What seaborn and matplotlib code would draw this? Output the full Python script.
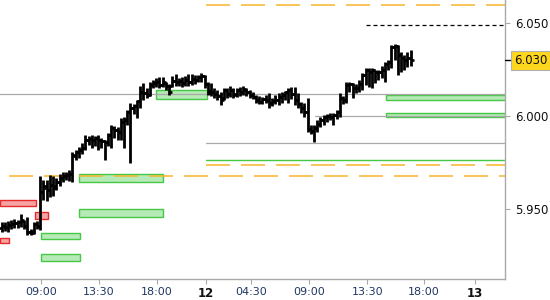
import numpy as np
import pandas as pd
import seaborn as sns
import matplotlib
matplotlib.use("Agg")
import matplotlib.pyplot as plt
from matplotlib.patches import Rectangle
from matplotlib.transforms import blended_transform_factory

# ---------------- data ----------------
opens = [5.9398, 5.9409, 5.9403, 5.9414, 5.9420, 5.9425, 5.9430, 5.9435, 5.9409, 5.9376,
         5.9376, 5.9420, 5.9409, 5.9591, 5.9613, 5.9602, 5.9629, 5.9624, 5.9645, 5.9667,
         5.9677, 5.9683, 5.9688, 5.9785, 5.9806, 5.9817, 5.9828, 5.9871, 5.9876, 5.9871,
         5.9882, 5.9871, 5.9866, 5.9860, 5.9898, 5.9935, 5.9925, 5.9914, 5.9968, 5.9978,
         6.0022, 6.0043, 6.0054, 6.0081, 6.0129, 6.0124, 6.0113, 6.0167, 6.0177, 6.0183,
         6.0167, 6.0177, 6.0161, 6.0161, 6.0188, 6.0183, 6.0188, 6.0177, 6.0194, 6.0183,
         6.0199, 6.0194, 6.0210, 6.0215, 6.0172, 6.0134, 6.0129, 6.0118, 6.0108, 6.0097,
         6.0140, 6.0118, 6.0140, 6.0118, 6.0140, 6.0129, 6.0140, 6.0129, 6.0113, 6.0102,
         6.0086, 6.0075, 6.0091, 6.0086, 6.0070, 6.0081, 6.0086, 6.0102, 6.0113, 6.0129,
         6.0140, 6.0118, 6.0086, 6.0065, 6.0043, 6.0022, 5.9930, 5.9919, 5.9935, 5.9957,
         5.9978, 5.9995, 6.0000, 5.9995, 6.0005, 6.0022, 6.0097, 6.0086, 6.0167, 6.0172,
         6.0151, 6.0151, 6.0172, 6.0220, 6.0247, 6.0237, 6.0247, 6.0237, 6.0237, 6.0247,
         6.0280, 6.0290, 6.0371, 6.0376, 6.0328, 6.0312, 6.0301, 6.0312]
highs = [5.9430, 5.9430, 5.9435, 5.9441, 5.9446, 5.9441, 5.9473, 5.9441, 5.9457, 5.9393,
         5.9430, 5.9435, 5.9677, 5.9656, 5.9656, 5.9683, 5.9677, 5.9667, 5.9688, 5.9699,
         5.9699, 5.9710, 5.9806, 5.9817, 5.9833, 5.9855, 5.9898, 5.9892, 5.9898, 5.9892,
         5.9898, 5.9882, 5.9871, 5.9909, 5.9952, 5.9946, 5.9941, 5.9989, 5.9995, 6.0032,
         6.0070, 6.0065, 6.0086, 6.0161, 6.0177, 6.0151, 6.0183, 6.0194, 6.0204, 6.0210,
         6.0210, 6.0183, 6.0172, 6.0215, 6.0226, 6.0204, 6.0210, 6.0215, 6.0226, 6.0226,
         6.0220, 6.0220, 6.0231, 6.0220, 6.0183, 6.0177, 6.0151, 6.0140, 6.0129, 6.0151,
         6.0151, 6.0161, 6.0151, 6.0151, 6.0156, 6.0161, 6.0151, 6.0140, 6.0129, 6.0113,
         6.0108, 6.0102, 6.0113, 6.0124, 6.0097, 6.0113, 6.0124, 6.0129, 6.0134, 6.0151,
         6.0156, 6.0156, 6.0124, 6.0075, 6.0070, 6.0097, 5.9952, 5.9952, 5.9978, 5.9995,
         6.0005, 6.0011, 6.0016, 6.0016, 6.0032, 6.0124, 6.0108, 6.0183, 6.0183, 6.0177,
         6.0172, 6.0194, 6.0231, 6.0258, 6.0258, 6.0258, 6.0247, 6.0247, 6.0269, 6.0290,
         6.0301, 6.0382, 6.0387, 6.0382, 6.0344, 6.0328, 6.0344, 6.0355]
lows = [5.9376, 5.9382, 5.9376, 5.9393, 5.9398, 5.9398, 5.9403, 5.9393, 5.9360, 5.9360,
        5.9366, 5.9393, 5.9387, 5.9548, 5.9543, 5.9565, 5.9570, 5.9602, 5.9624, 5.9645,
        5.9656, 5.9651, 5.9645, 5.9763, 5.9774, 5.9796, 5.9817, 5.9844, 5.9828, 5.9839,
        5.9817, 5.9828, 5.9763, 5.9839, 5.9828, 5.9882, 5.9871, 5.9871, 5.9828, 5.9952,
        5.9747, 6.0011, 5.9989, 6.0043, 6.0086, 6.0097, 6.0108, 6.0151, 6.0156, 6.0151,
        6.0156, 6.0140, 6.0113, 6.0156, 6.0161, 6.0161, 6.0156, 6.0161, 6.0161, 6.0167,
        6.0172, 6.0183, 6.0183, 6.0151, 6.0113, 6.0108, 6.0097, 6.0086, 6.0059, 6.0086,
        6.0097, 6.0102, 6.0097, 6.0102, 6.0108, 6.0113, 6.0108, 6.0097, 6.0091, 6.0070,
        6.0065, 6.0065, 6.0070, 6.0043, 6.0054, 6.0065, 6.0059, 6.0070, 6.0086, 6.0070,
        6.0091, 6.0059, 6.0043, 6.0016, 5.9995, 5.9914, 5.9903, 5.9860, 5.9914, 5.9941,
        5.9952, 5.9968, 5.9978, 5.9952, 5.9984, 5.9995, 6.0065, 6.0070, 6.0129, 6.0097,
        6.0124, 6.0129, 6.0140, 6.0167, 6.0156, 6.0151, 6.0177, 6.0194, 6.0204, 6.0183,
        6.0247, 6.0258, 6.0301, 6.0220, 6.0237, 6.0247, 6.0263, 6.0269]
closes = [5.9409, 5.9403, 5.9414, 5.9420, 5.9425, 5.9430, 5.9441, 5.9409, 5.9376, 5.9371,
          5.9420, 5.9409, 5.9591, 5.9624, 5.9602, 5.9629, 5.9613, 5.9645, 5.9667, 5.9677,
          5.9683, 5.9688, 5.9790, 5.9806, 5.9817, 5.9828, 5.9871, 5.9876, 5.9871, 5.9882,
          5.9871, 5.9866, 5.9860, 5.9898, 5.9935, 5.9925, 5.9914, 5.9968, 5.9978, 6.0022,
          6.0043, 6.0054, 6.0081, 6.0129, 6.0124, 6.0113, 6.0167, 6.0177, 6.0183, 6.0167,
          6.0183, 6.0161, 6.0129, 6.0188, 6.0183, 6.0188, 6.0177, 6.0194, 6.0183, 6.0199,
          6.0194, 6.0210, 6.0215, 6.0172, 6.0124, 6.0129, 6.0118, 6.0108, 6.0086, 6.0140,
          6.0118, 6.0140, 6.0113, 6.0140, 6.0129, 6.0145, 6.0129, 6.0113, 6.0102, 6.0086,
          6.0075, 6.0091, 6.0086, 6.0070, 6.0081, 6.0086, 6.0102, 6.0113, 6.0129, 6.0140,
          6.0118, 6.0086, 6.0065, 6.0043, 6.0022, 5.9930, 5.9919, 5.9935, 5.9957, 5.9978,
          5.9995, 6.0000, 5.9995, 6.0005, 6.0022, 6.0097, 6.0086, 6.0167, 6.0172, 6.0151,
          6.0151, 6.0172, 6.0220, 6.0247, 6.0237, 6.0247, 6.0237, 6.0237, 6.0247, 6.0280,
          6.0290, 6.0371, 6.0376, 6.0328, 6.0312, 6.0301, 6.0312, 6.0301]

tick_pos = [12.2, 30.2, 48.3, 63.5, 77.5, 95.5, 113.5, 131.2, 147.0]
tick_labels = ["09:00", "13:30", "18:00", "12", "04:30", "09:00", "13:30", "18:00", "13"]
day_labels = ["12", "13"]
y_ticks = [5.95, 6.00, 6.05]
last_price = 6.030

gray_levels = [6.0118, 6.0000, 5.9855]
gray_starts = [-0.5, 97.3, 63.5]
orange_levels = [6.0597, 5.9735, 5.9677]
orange_starts = [63.5, 63.5, -0.5]
green_line_level = 5.9763
green_line_start = 63.5
black_dash_level = 6.0488
black_dash_start = 113.2

green_x0 = [48.0, 24.0, 24.0, 12.2, 12.2, 119.4, 119.4]
green_x1 = [63.8, 50.0, 50.0, 24.3, 24.3, 157.0, 157.0]
green_lo = [6.0090, 5.9647, 5.9459, 5.9337, 5.9222, 6.0086, 5.9997]
green_hi = [6.0140, 5.9688, 5.9500, 5.9373, 5.9258, 6.0115, 6.0018]

red_x0 = [-0.6, 10.4, -0.6]
red_x1 = [10.7, 14.4, 2.4]
red_lo = [5.9518, 5.9445, 5.9316]
red_hi = [5.9548, 5.9482, 5.9346]

XMIN, XMAX = -0.5, 156.3
YMIN, YMAX = 5.91237, 6.06237

# ---------------- style ----------------
sns.set_theme(style="white")
plt.rcParams["font.family"] = ["DejaVu Sans"]
plt.rcParams["lines.scale_dashes"] = False

df = pd.DataFrame({"open": opens, "high": highs, "low": lows, "close": closes})
df["idx"] = np.arange(len(df))

fig = plt.figure(figsize=(5.5, 3.0), dpi=100)
ax = fig.add_axes([0.0, 0.07, 505 / 550, 0.93])
ax.set_xlim(XMIN, XMAX)
ax.set_ylim(YMIN, YMAX)

ORANGE = "#f7b52c"
GREEN_EDGE = "#46c846"
GREEN_FILL = "#b6eab6"
RED_EDGE = "#e62a2a"
RED_FILL = "#f5a3a3"
GRAY = "#a9a9a9"

# boxes
for x0, x1, lo, hi in zip(green_x0, green_x1, green_lo, green_hi):
    ax.add_patch(Rectangle((x0, lo), x1 - x0, hi - lo, facecolor=GREEN_FILL,
                           edgecolor=GREEN_EDGE, linewidth=1.0, zorder=1))
for x0, x1, lo, hi in zip(red_x0, red_x1, red_lo, red_hi):
    ax.add_patch(Rectangle((x0, lo), x1 - x0, hi - lo, facecolor=RED_FILL,
                           edgecolor=RED_EDGE, linewidth=1.0, zorder=1))

# level lines
for lv, st in zip(gray_levels, gray_starts):
    ax.plot([st, XMAX], [lv, lv], color=GRAY, lw=0.9, zorder=2)
dash_pt = 24 * 0.72
gap_pt = 11 * 0.72
for lv, st in zip(orange_levels, orange_starts):
    off = 26 * 0.72 if st < 0 else 0
    ax.plot([st, XMAX], [lv, lv], color=ORANGE, lw=1.1, zorder=2,
            linestyle=(off, (dash_pt, gap_pt)))
ax.plot([green_line_start, XMAX], [green_line_level] * 2, color=GREEN_EDGE, lw=1.0, zorder=2)
ax.plot([black_dash_start, XMAX], [black_dash_level] * 2, color="black", lw=0.9, zorder=2,
        linestyle=(0, (4 * 0.72, 3 * 0.72)))

# OHLC bars
bw = 0.95
ax.vlines(df["idx"], df["low"], df["high"], color="black", lw=2.0, zorder=4)
ax.hlines(df["open"], df["idx"] - bw, df["idx"], color="black", lw=1.9, zorder=4)
ax.hlines(df["close"], df["idx"], df["idx"] + bw, color="black", lw=1.9, zorder=4)

# axes styling
for s in ["top", "left"]:
    ax.spines[s].set_visible(False)
for s in ["right", "bottom"]:
    ax.spines[s].set_visible(True)
    ax.spines[s].set_color(GRAY)
    ax.spines[s].set_linewidth(1.0)

ax.yaxis.tick_right()
ax.set_yticks(y_ticks)
ax.set_yticklabels([f"{v:.3f}" for v in y_ticks])
ax.tick_params(axis="y", which="both", right=True, left=False, length=3.5, width=0.8,
               color=GRAY, pad=3.5, labelsize=8.5, labelcolor="#111111")
ax.set_xticks(tick_pos)
ax.set_xticklabels(tick_labels)
ax.tick_params(axis="x", bottom=True, length=3.5, width=0.8, color=GRAY, pad=2.5,
               labelsize=8, labelcolor="#203864")
for lab in ax.get_xticklabels():
    if lab.get_text() in day_labels:
        lab.set_fontweight("bold")
        lab.set_color("#111111")
        lab.set_fontsize(8.5)

ax.grid(False)

# last price marker
trans = blended_transform_factory(ax.transAxes, ax.transData)
ax.plot([1.0, 1.009], [last_price, last_price], color="black", lw=1.0,
        transform=trans, clip_on=False, zorder=5)
ax.text(1.018, last_price, f"{last_price:.3f}", transform=trans, ha="left", va="center",
        fontsize=8.5, color="#111111",
        bbox=dict(boxstyle="square,pad=0.25", facecolor="#ffd71c", edgecolor="#b0b0b0", lw=0.8))

fig.savefig("out.png", dpi=100)
